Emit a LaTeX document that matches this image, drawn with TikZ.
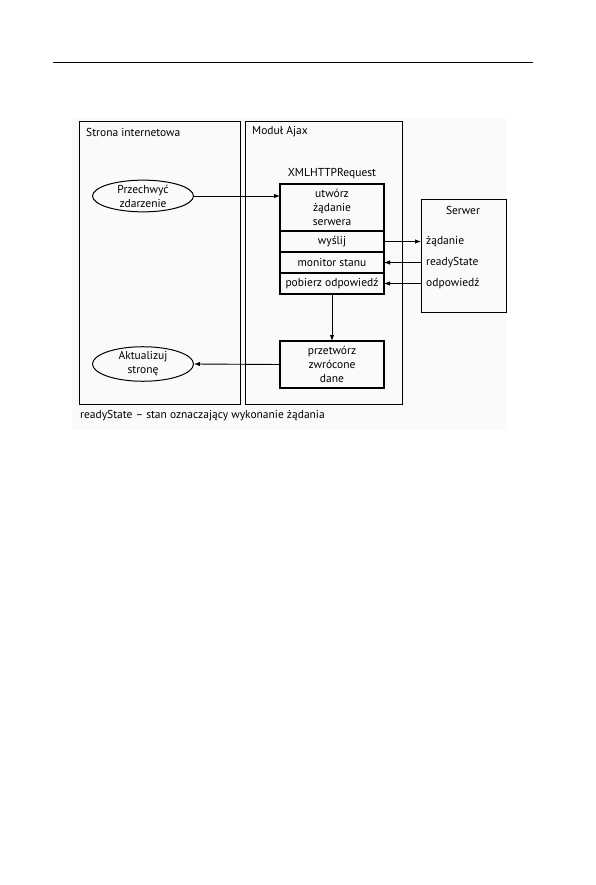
\documentclass[tikz,border=0pt]{standalone}
\usepackage{fontspec}
\setmainfont{PT Sans}
\usepackage{tikz}
\usetikzlibrary{arrows.meta, shapes.geometric}

\begin{document}
\begin{tikzpicture}[x=1pt, y=-1pt,
    font=\fontsize{11.5}{14}\selectfont,
    panel/.style={draw, line width=1.1pt, inner sep=0pt},
    cell/.style={draw, line width=1.1pt, minimum width=104pt, inner sep=0pt, outer sep=0pt, align=center},
    oval/.style={draw, ellipse, line width=1pt, minimum width=101pt, inner sep=0pt, align=center},
    item/.style={anchor=west, inner xsep=5pt, inner ysep=0pt},
    arr/.style={-{Latex[length=6pt, width=4.5pt]}, line width=0.9pt}]
    \useasboundingbox (0,0) rectangle (596,885);
    \fill[black!2] (72,118) rectangle (507,430);
    \draw[line width=1pt] (53,63) -- (533,63);

    \node[panel, minimum width=161pt, minimum height=283pt, anchor=north west] at (79,121) (strona) {};
    \node[panel, minimum width=157pt, minimum height=283pt, anchor=north west] at (245,121) (modul) {};
    \node[anchor=west, inner sep=0pt] at (86,132) (stronaTxt) {Strona internetowa};
    \node[anchor=west, inner sep=0pt] at (252,132) (modulTxt) {Moduł Ajax};

    \node[oval, minimum height=30pt] at (143,196) (przechwyc) {Przechwyć\\zdarzenie};
    \node[oval, minimum height=32pt] at (143,364) (aktualizuj) {Aktualizuj\\stronę};

    \node[inner sep=0pt] at (332,174) (xhr) {XMLHTTPRequest};
    \node[cell, minimum height=47pt, anchor=north west] at (280,184) (utworz) {utwórz\\żądanie\\serwera};
    \node[cell, minimum height=21pt, anchor=north] at (utworz.south) (wyslij) {wyślij};
    \node[cell, minimum height=21pt, anchor=north] at (wyslij.south) (monitor) {monitor stanu};
    \node[cell, minimum height=21pt, anchor=north] at (monitor.south) (pobierz) {pobierz odpowiedź};
    \node[cell, minimum height=47pt, anchor=north west] at (280,341) (przetworz) {przetwórz\\zwrócone\\dane};

    \node[panel, minimum width=85pt, minimum height=113pt, anchor=north west] at (421,199) (serwer) {};
    \node[inner sep=0pt] at (463,210) (serwerTxt) {Serwer};
    \node[item] at (serwer.west |- wyslij.east) (zadanie) {żądanie};
    \node[item] at (serwer.west |- monitor.east) (ready) {readyState};
    \node[item] at (serwer.west |- pobierz.east) (odpowiedz) {odpowiedź};

    \node[anchor=west, inner sep=0pt] at (80,416) (opis) {readyState – stan oznaczający wykonanie żądania};

    \draw[arr] (przechwyc.east) -- (przechwyc.east -| utworz.west);
    \draw[arr] (wyslij.east) -- (zadanie.west);
    \draw[arr] (ready.west) -- (monitor.east);
    \draw[arr] (odpowiedz.west) -- (pobierz.east);
    \draw[arr] (pobierz.south) -- (przetworz.north);
    \draw[arr] (przetworz.west) -- (aktualizuj.east);
\end{tikzpicture}
\end{document}
